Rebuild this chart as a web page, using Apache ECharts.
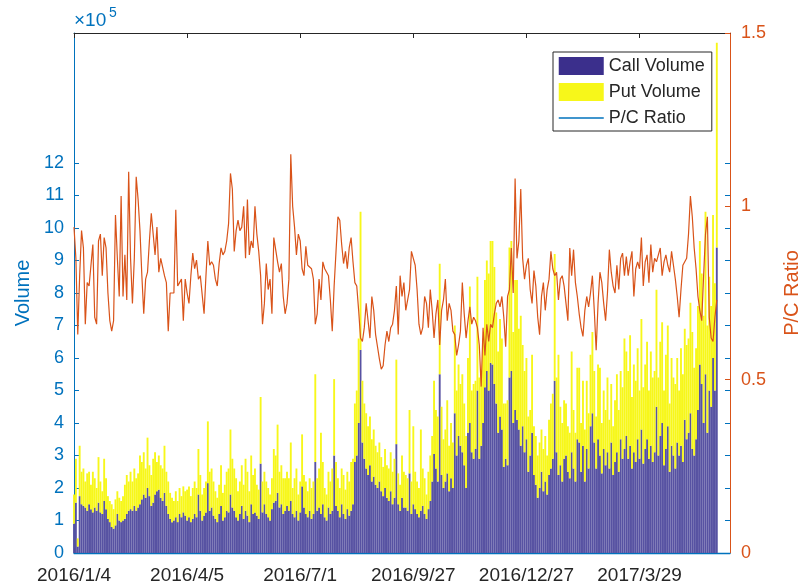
<!DOCTYPE html>
<html><head><meta charset="utf-8">
<script src="https://cdn.jsdelivr.net/npm/echarts@6/dist/echarts.min.js"></script>
<style>html,body{margin:0;padding:0;background:#fff}#c{width:804px;height:586px}</style>
</head><body><div id="c"></div>
<script>
// x tick labels (one every 60 trading days)
const tickLabels = ['2016/1/4','2016/4/5','2016/7/1','2016/9/27','2016/12/27','2017/3/29'];
const tickStep = 60;
const axisDays = 349;            // trading-day slots on the x axis (data fills the first 342)
const yLeftTicks = [0,1,2,3,4,5,6,7,8,9,10,11,12];

// Call volume per trading day, in units of 10^5
const callVolume = [
0.9,1.55,0.2,1.75,1.5,1.45,1.4,1.3,1.5,1.35, 1.25,1.4,1.3,1.55,1.25,1.2,1.6,1.35,1.05,0.95,
0.8,0.75,0.85,1.2,1.0,0.95,1.0,1.05,1.2,1.3, 1.35,1.3,1.45,1.3,1.4,1.5,1.65,1.8,1.7,2.0,
1.75,1.45,1.55,1.8,1.9,1.95,1.7,1.6,1.85,1.45, 1.2,1.05,0.95,1.0,1.1,0.95,1.2,1.1,1.25,1.15,
1.0,1.1,0.95,1.05,1.2,1.1,1.8,1.3,1.0,1.15, 1.25,2.15,1.3,1.4,1.15,1.05,0.95,1.2,1.45,1.0,
1.1,1.3,1.25,1.8,1.4,1.3,1.1,1.0,1.2,1.45, 1.05,1.3,1.15,0.95,1.5,1.2,1.25,1.15,1.05,2.75,
1.25,1.5,1.2,1.1,1.0,1.35,1.55,1.6,1.85,1.4, 1.5,1.2,1.3,1.45,
1.3,1.6,1.2,1.1,1.3,1.0,1.25,2.05,1.4,1.2, 1.1,1.3,1.05,1.2,2.8,1.3,1.4,1.2,1.5,1.1,
1.0,1.4,1.2,1.3,3.0,1.45,1.3,1.1,1.5,1.2, 1.05,1.35,1.15,1.3,1.5,2.8,3.0,4.0,6.25,3.4,
2.9,2.6,2.4,2.7,2.2,2.35,2.1,2.0,2.2,1.9, 1.75,2.0,1.7,1.6,1.9,1.5,1.7,3.35,1.5,1.3,
1.7,1.4,
1.4,1.3,2.45,1.2,1.5,1.35,1.2,1.1,1.3,1.45, 1.2,1.05,1.35,1.6,2.2,3.05,2.6,2.2,5.5,2.4,
2.0,2.2,2.45,1.9,2.3,2.0,4.3,3.0,3.6,3.3, 3.1,2.7,2.0,3.7,4.0,3.1,2.9,3.2,5.0,2.9,
3.3,4.0,5.1,5.6,5.0,5.85,5.8,5.2,4.6,3.7, 4.2,3.8,2.65,2.9,2.7,5.4,5.6,4.0,4.4,
4.1,3.8,3.3,3.9,3.1,3.5,2.5,3.0,3.7,2.4, 2.1,1.7,2.0,2.5,1.9,2.2,1.8,2.4,2.6,2.9,
5.3,3.1,2.4,2.7,2.2,2.9,3.0,2.5,2.3,3.1, 2.6,2.2,3.5,3.4,2.5,3.3,2.2,3.2,2.6,3.9,
4.3,3.4,2.6,3.5,3.0,2.45,3.2,2.7,3.1,2.6, 3.4,2.4,2.8,3.1,2.5,3.5,2.9,3.2,
3.6,2.9,3.3,2.6,3.1,2.8,3.5,2.9,3.8,2.75, 3.2,3.5,2.9,3.3,2.8,3.1,4.5,3.0,3.6,4.0,
2.7,3.2,3.9,2.5,3.3,3.0,2.6,3.4,3.0,3.3, 2.8,4.1,3.5,3.7,4.3,3.2,3.0,3.5,4.4,5.8,
5.2,4.0,5.5,3.7,5.0,4.5,6.0,5.0,9.4
];

// Put volume per trading day, in units of 10^5
const putVolume = [
0.9,1.35,0.25,1.55,1.0,1.15,0.8,1.15,1.0,0.75, 1.25,0.9,0.7,1.4,0.95,0.7,1.3,0.95,0.7,0.65,
0.7,0.6,0.8,0.7,0.7,0.65,0.75,1.05,1.2,0.9, 1.15,0.9,1.15,1.0,1.05,1.5,1.15,1.3,0.9,1.55,
0.95,0.95,1.35,1.3,0.9,1.05,1.0,1.0,1.45,1.05, 1.0,0.8,0.75,0.6,0.8,0.65,0.8,0.65,0.8,0.75,
0.95,0.95,0.8,0.95,1.0,0.9,1.4,1.1,0.8,0.85, 0.95,1.9,1.2,1.2,1.05,0.85,0.75,0.9,1.25,0.85,
1.0,1.2,1.35,2.0,1.5,1.3,1.2,0.9,1.0,1.25, 1.05,1.6,1.35,0.95,1.5,1.2,1.35,0.95,0.9,2.05,
0.95,1.0,1.0,0.9,0.8,0.95,1.65,1.4,2.1,1.1, 1.2,1.1,1.0,1.05,
1.0,1.8,0.8,1.2,1.3,0.8,0.95,1.6,1.0,1.0, 0.8,1.0,0.95,1.0,2.7,1.0,1.2,2.5,1.3,0.9,
0.8,1.1,1.0,1.3,2.35,1.35,1.0,0.9,1.1,1.2, 0.9,1.15,1.05,1.5,1.4,1.8,2.0,2.6,4.25,1.9,
1.7,1.7,1.5,1.5,1.3,1.45,1.2,1.1,1.2,1.05, 0.9,1.2,1.0,1.0,1.2,1.0,1.2,2.6,0.95,0.8,
1.3,1.1,
1.0,1.0,1.95,1.0,2.4,1.15,1.0,0.9,2.5,1.15, 1.1,0.75,1.15,1.4,1.4,2.25,1.8,2.0,3.4,2.1,
1.5,1.6,2.25,1.4,1.7,1.4,2.7,2.0,2.2,1.9, 2.4,1.9,1.6,2.3,4.2,1.9,2.3,2.1,3.5,2.5,
2.3,2.6,3.3,3.4,3.6,3.75,3.8,3.6,2.8,2.5, 3.0,2.8,1.95,1.7,2.0,4.0,4.0,2.8,4.0,
4.3,3.1,4.0,2.5,2.5,2.5,1.7,1.4,2.4,1.5, 1.5,1.3,1.4,1.3,1.3,1.4,1.2,1.7,2.0,2.0,
3.9,2.3,3.7,1.8,1.8,1.8,1.6,1.4,1.4,3.1, 1.8,1.5,2.2,2.3,1.5,2.0,1.6,2.1,1.7,2.2,
2.5,2.2,1.6,2.3,2.7,1.55,1.8,1.7,2.3,1.5, 1.8,1.5,1.9,2.4,1.9,2.1,2.2,3.4,
2.6,2.7,3.4,2.2,2.7,2.5,2.8,2.1,3.4,2.35, 2.6,3.0,2.1,2.9,2.6,2.5,3.6,2.4,2.9,3.1,
2.3,2.9,3.1,2.1,2.7,2.4,2.6,2.6,2.0,3.0, 2.7,2.8,2.9,2.9,3.4,3.6,2.7,2.8,3.2,3.8,
3.4,3.3,5.0,3.3,3.5,3.1,4.4,3.3,6.3
];

// Put/Call ratio per trading day
const pcRatio = [
0.94,0.85,0.63,0.80,0.93,0.88,0.66,0.78,0.77,0.77, 0.89,0.68,0.66,0.90,0.92,0.80,0.91,0.88,0.75,0.67,
0.64,0.67,0.975,0.85,0.74,1.03,0.74,0.86,0.73,1.10, 0.85,0.72,0.85,1.085,1.02,0.93,0.80,0.69,0.79,0.81,
0.90,0.98,0.98,0.86,0.94,0.81,0.85,0.85,0.80,0.78, 0.64,0.75,0.75,0.75,0.99,0.77,0.78,0.79,0.67,0.79,
0.75,0.72,0.80,0.865,0.82,0.845,0.79,0.80,0.80,0.69, 0.80,0.90,0.83,0.84,0.83,0.79,0.77,0.835,0.88,0.86,
0.87,0.90,0.95,1.095,1.05,0.87,0.93,0.96,0.93,0.94, 1.0,0.85,1.02,0.86,0.90,0.88,1.0,0.92,0.87,0.80,
0.66,0.72,0.835,0.76,0.79,0.69,0.91,0.91,0.84,0.81, 0.835,0.74,0.69,0.72,
0.79,1.15,1.0,0.94,0.86,0.92,0.90,0.82,0.80,0.885, 0.83,0.835,0.82,0.79,0.66,0.69,0.79,0.73,0.84,0.82,
0.81,0.80,0.73,0.64,0.77,0.87,0.97,0.96,0.89,0.835, 0.87,0.82,0.88,0.91,0.84,0.78,0.77,0.70,0.62,0.61,
0.65,0.72,0.67,0.62,0.74,0.70,0.63,0.595,0.56,0.53, 0.54,0.60,0.64,0.61,0.65,0.66,0.70,0.77,0.63,0.80,
0.74,0.78,
0.70,0.73,0.76,0.87,0.85,0.83,0.76,0.66,0.63,0.65, 0.74,0.72,0.65,0.76,0.70,0.62,0.69,0.73,0.60,0.70,
0.73,0.79,0.67,0.72,0.70,0.64,0.63,0.57,0.60,0.64, 0.78,0.69,0.62,0.67,0.71,0.66,0.68,0.67,0.65,0.60,
0.48,0.65,0.57,0.66,0.61,0.66,0.65,0.69,0.72,0.73, 0.71,0.74,0.68,0.595,0.74,0.76,0.88,0.75,1.08,
0.85,0.90,1.05,0.85,0.79,0.83,0.85,0.76,0.72,0.815, 0.77,0.68,0.63,0.74,0.78,0.70,0.76,0.79,0.87,0.82,
0.80,0.81,0.73,0.79,0.80,0.77,0.72,0.67,0.88,0.80, 0.875,0.78,0.74,0.69,0.65,0.625,0.70,0.74,0.71,0.75,
0.80,0.70,0.585,0.72,0.81,0.78,0.72,0.67,0.75,0.875, 0.81,0.77,0.75,0.83,0.76,0.85,0.865,0.80,
0.855,0.80,0.84,0.87,0.74,0.82,0.84,0.82,0.91,0.77, 0.84,0.86,0.78,0.89,0.81,0.85,0.84,0.84,0.88,0.80,
0.84,0.86,0.83,0.81,0.87,0.83,0.79,0.74,0.68,0.76, 0.83,0.84,0.85,0.92,1.03,0.97,0.88,0.82,0.74,0.70,
0.67,0.80,0.92,0.97,0.68,0.62,0.61,0.68,0.73
];

const BLUE = '#0072BD', ORANGE = '#D95319', DARK = '#262626';
const FONT = '"Liberation Sans", Arial, Helvetica, sans-serif';
const dayIndex = Array.from({length: axisDays}, (_, i) => String(i));
const isTickDay = (index) => index % tickStep === 0;

const chart = echarts.init(document.getElementById('c'), null, {renderer: 'canvas'});
chart.setOption({
  animation: false,
  textStyle: {fontFamily: FONT},
  grid: {left: 74, right: 74, top: 33, bottom: 33, containLabel: false, outerBoundsMode: 'none'},
  legend: {
    orient: 'vertical', left: 553, top: 52,
    padding: [5, 7, 4, 5], itemGap: 8, itemWidth: 45, itemHeight: 18,
    backgroundColor: '#fff', borderColor: DARK, borderWidth: 1, borderRadius: 0,
    textStyle: {fontSize: 18, color: DARK, fontFamily: FONT},
    data: [
      {name: 'Call Volume', icon: 'rect', itemStyle: {color: '#3B2F8C'}},
      {name: 'Put Volume', icon: 'rect', itemStyle: {color: '#F7F71A'}},
      {name: 'P/C Ratio', itemStyle: {color: 'rgba(0,0,0,0)', borderColor: 'rgba(0,0,0,0)', borderWidth: 0},
       lineStyle: {color: BLUE, width: 1.5}}
    ]
  },
  graphic: [
    {type: 'text', left: 74, top: 11, style: {text: '×10', fontSize: 19, fill: BLUE, fontFamily: FONT}},
    {type: 'text', left: 109, top: 6, style: {text: '5', fontSize: 14, fill: BLUE, fontFamily: FONT}}
  ],
  xAxis: [
    {
      type: 'category', data: dayIndex, boundaryGap: false, position: 'bottom',
      axisLine: {onZero: false, lineStyle: {color: BLUE, width: 1.3}},
      axisTick: {inside: true, length: 5, interval: isTickDay, lineStyle: {color: DARK}},
      axisLabel: {interval: isTickDay, formatter: (v, idx) => tickLabels[Math.round(Number(v) / tickStep)] || '',
                  fontSize: 19, color: DARK, margin: 13},
      splitLine: {show: false}
    },
    {
      type: 'category', data: dayIndex, boundaryGap: false, position: 'top',
      axisLine: {onZero: false, lineStyle: {color: DARK}},
      axisTick: {inside: true, length: 5, interval: isTickDay, lineStyle: {color: DARK}},
      axisLabel: {show: false},
      splitLine: {show: false}
    }
  ],
  yAxis: [
    {
      type: 'value', min: 0, max: 16, position: 'left',
      name: 'Volume', nameLocation: 'middle', nameGap: 40,
      nameTextStyle: {fontSize: 20, color: BLUE, fontFamily: FONT},
      axisLine: {show: true, onZero: false, lineStyle: {color: BLUE}},
      axisTick: {show: true, inside: true, length: 5, customValues: yLeftTicks, lineStyle: {color: BLUE}},
      axisLabel: {customValues: yLeftTicks, fontSize: 18, color: BLUE, margin: 10},
      splitLine: {show: false}
    },
    {
      type: 'value', min: 0, max: 1.5, interval: 0.5, position: 'right',
      name: 'P/C Ratio', nameLocation: 'middle', nameGap: 52,
      nameTextStyle: {fontSize: 20, color: ORANGE, fontFamily: FONT},
      axisLine: {show: true, onZero: false, lineStyle: {color: ORANGE}},
      axisTick: {show: true, inside: true, length: 5, lineStyle: {color: ORANGE}},
      axisLabel: {fontSize: 18, color: ORANGE, margin: 11},
      splitLine: {show: false}
    },
    {
      type: 'value', min: 0, max: 16, position: 'right',
      axisLine: {show: false, onZero: false},
      axisTick: {show: true, inside: true, length: 5, customValues: yLeftTicks, lineStyle: {color: BLUE}},
      axisLabel: {show: false},
      splitLine: {show: false}
    }
  ],
  series: [
    {
      name: 'Call Volume', type: 'bar', stack: 'vol', xAxisIndex: 0, yAxisIndex: 0,
      barWidth: '100%', itemStyle: {color: '#5752A2'},
      data: callVolume
    },
    {
      name: 'Put Volume', type: 'bar', stack: 'vol', xAxisIndex: 0, yAxisIndex: 0,
      barWidth: '100%', itemStyle: {color: '#F7F71A'},
      data: putVolume
    },
    {
      name: 'P/C Ratio', type: 'line', xAxisIndex: 0, yAxisIndex: 1,
      symbol: 'none', lineStyle: {color: ORANGE, width: 1.2}, itemStyle: {color: ORANGE},
      data: pcRatio, z: 3
    }
  ]
});
</script>
</body></html>
